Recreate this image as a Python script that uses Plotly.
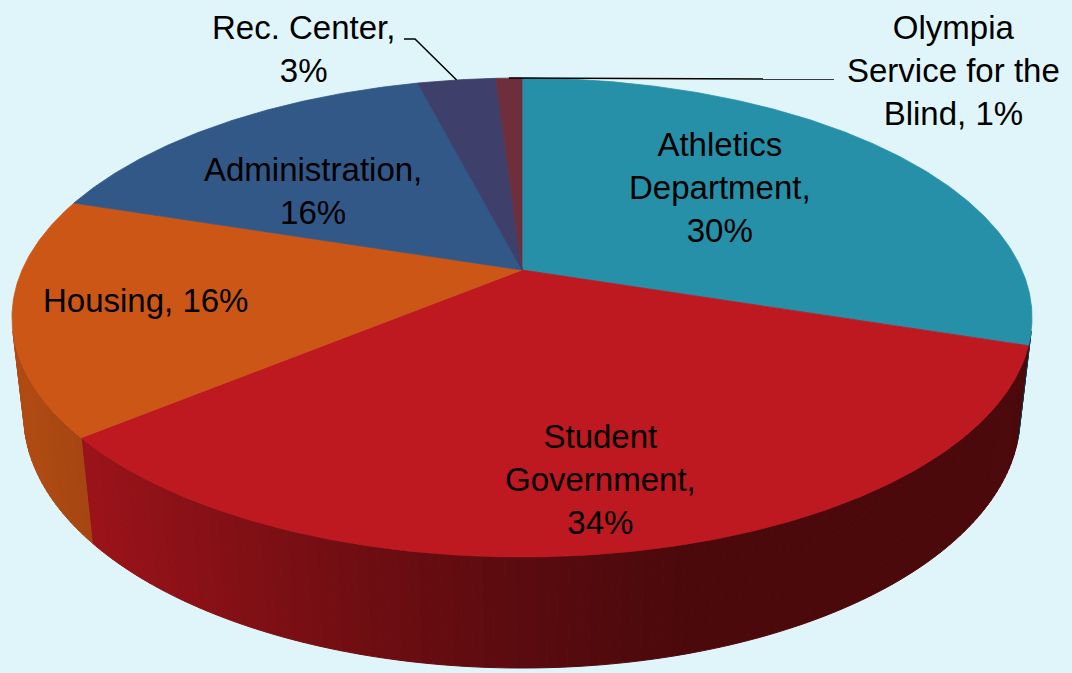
import numpy as np
import plotly.graph_objects as go

# ---------------- data ----------------
categories = ["Athletics Department", "Student Government", "Housing",
              "Administration", "Rec. Center", "Olympia Service for the Blind"]
values = [30, 34, 16, 16, 3, 1]
label_texts = ["Athletics<br>Department,<br>30%",
               "Student<br>Government,<br>34%",
               "Housing, 16%",
               "Administration,<br>16%",
               "Rec. Center,<br>3%",
               "Olympia<br>Service for the<br>Blind, 1%"]
colors = ["#2690a8", "#be1820", "#cb5616", "#325888", "#3e3f6a", "#6e2e3c"]

# ---------------- layout / projection parameters ----------------
W, H = 1072, 673
BG = "#dff5fa"
CX, CY = 522, 270           # screen position of pie centre
ELEV = np.radians(27.4)     # camera elevation
DIST = 4.477                # camera distance (pie radius = 1)
FOC = 2238                  # focal length in px
THICK = 0.221               # pie thickness (radius units)
FONT = "Liberation Sans"
FSIZE = 33


def project(X, Y, Z):
    depth = DIST - Y * np.sin(ELEV) - Z * np.cos(ELEV)
    sx = CX + FOC * X / depth
    sy = CY - FOC * (Y * np.cos(ELEV) - Z * np.sin(ELEV)) / depth
    return sx, sy


def rim_point(alpha_deg, Y):
    a = np.radians(alpha_deg)
    return project(np.sin(a), Y, -np.cos(a))


def shade_color(hexc, s):
    r, g, b = int(hexc[1:3], 16), int(hexc[3:5], 16), int(hexc[5:7], 16)
    return "rgb(%d,%d,%d)" % (r * s, g * s, b * s)


fracs = np.array(values, dtype=float) / np.sum(values)
ends = np.cumsum(fracs) * 360.0
starts = ends - fracs * 360.0

fig = go.Figure()

# visible wall range (normal facing the camera)
lim = np.degrees(np.arccos(-1.0 / (DIST * np.cos(ELEV))))
vis_lo, vis_hi = lim, 360 - lim
light = np.array([-0.95, 0.30])
light = light / np.linalg.norm(light)

# ---------------- side walls ----------------
for i in range(len(values)):
    a0 = max(starts[i], vis_lo)
    a1 = min(ends[i], vis_hi)
    if a1 <= a0:
        continue
    n = max(2, int(np.ceil((a1 - a0) / 1.0)))
    edges = np.linspace(a0, a1, n + 1)
    for t0, t1 in zip(edges[:-1], edges[1:]):
        ts = np.linspace(t0, t1, 4)
        xt, yt = rim_point(ts, 0.0)
        xb, yb = rim_point(ts[::-1], -THICK)
        tm = np.radians((t0 + t1) / 2)
        nrm = np.array([np.sin(tm), -np.cos(tm)])
        d = max(0.0, float(nrm @ light))
        s = 0.40 + 0.47 * d ** 1.5
        c = shade_color(colors[i], s)
        fig.add_trace(go.Scatter(
            x=np.concatenate([xt, xb, xt[:1]]),
            y=np.concatenate([yt, yb, yt[:1]]),
            mode="lines", fill="toself", fillcolor=c,
            line=dict(color=c, width=1), hoverinfo="skip", showlegend=False))

# ---------------- top faces ----------------
for i in range(len(values)):
    ts = np.linspace(starts[i], ends[i], max(3, int((ends[i] - starts[i]) * 2)))
    xs, ys = rim_point(ts, 0.0)
    fig.add_trace(go.Scatter(
        x=np.concatenate([[CX], xs, [CX]]),
        y=np.concatenate([[CY], ys, [CY]]),
        mode="lines", fill="toself", fillcolor=colors[i],
        line=dict(color=colors[i], width=0.8), hoverinfo="skip",
        name=categories[i], showlegend=False))

# ---------------- leader lines ----------------
mid_rec = (starts[4] + ends[4]) / 2
mx, my = rim_point(mid_rec, 0.0)
fig.add_trace(go.Scatter(x=[404, 415, mx], y=[39, 39, my], mode="lines",
                         line=dict(color="black", width=1.5),
                         hoverinfo="skip", showlegend=False))
mid_oly = (starts[5] + ends[5]) / 2
ox, oy = rim_point(mid_oly, 0.0)
fig.add_trace(go.Scatter(x=[ox, 834], y=[oy, oy + 1], mode="lines",
                         line=dict(color="black", width=1.5),
                         hoverinfo="skip", showlegend=False))

# ---------------- labels ----------------
label_pos = [(720, 187), (600, 479), (145, 300), (313, 191), (303, 49), (953, 70)]
for txt, (lx, ly) in zip(label_texts, label_pos):
    fig.add_annotation(x=lx, y=ly, xref="x", yref="y", text=txt,
                       showarrow=False, xanchor="center", yanchor="middle",
                       align="center",
                       font=dict(family=FONT, size=FSIZE, color="black"))

fig.update_layout(
    width=W, height=H, margin=dict(l=0, r=0, t=0, b=0),
    paper_bgcolor=BG, plot_bgcolor=BG,
    xaxis=dict(range=[0, W], visible=False, fixedrange=True),
    yaxis=dict(range=[H, 0], visible=False, fixedrange=True),
    showlegend=False,
)

fig.write_html("out.html",
               config={"displayModeBar": False},
               post_script="document.body.style.margin='0';"
                           "document.body.style.background='%s';" % BG)
